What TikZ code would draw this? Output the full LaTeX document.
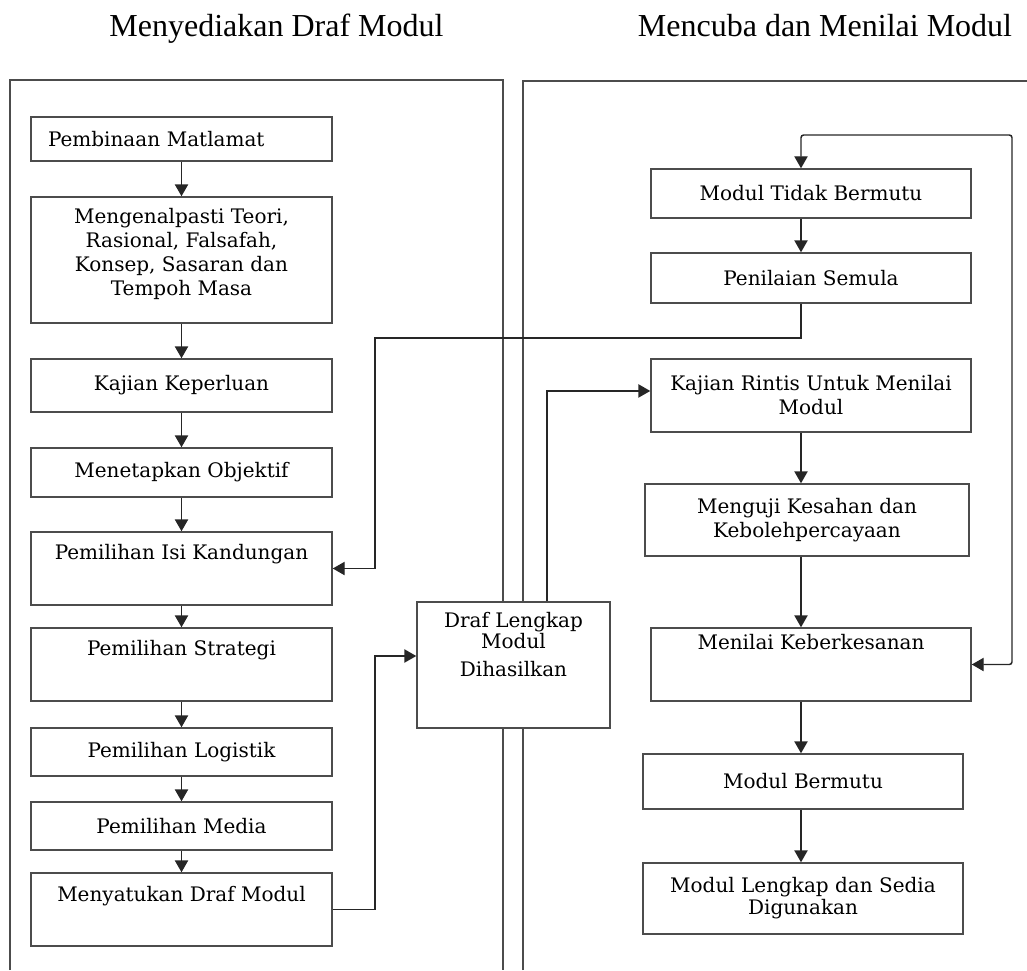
\documentclass[tikz,border=0pt]{standalone}
\usepackage{fontspec}
\setmainfont{Liberation Serif}
\newfontfamily\boxfont{DejaVu Serif}
\usetikzlibrary{arrows.meta}
\begin{document}
\begin{tikzpicture}[x=0.75pt,y=-0.75pt,
  >={Triangle[length=9pt,width=10pt]},
  box/.style={draw=black!70,fill=white,line width=1.1pt,align=center,inner sep=0pt,
    text=black,font=\boxfont\fontsize{15}{18}\selectfont},
  upper/.style 2 args={text height=#1,text depth=#2},
  arr/.style={draw=black!85,line width=1.1pt,->},
  panel/.style={draw=black!70,line width=1.1pt},
  ttl/.style={anchor=base,font=\fontsize{24}{28}\selectfont}]
\useasboundingbox (0,0) rectangle (1027,970);

\draw[panel] (10,970) -- (10,80) -- (503,80) -- (503,970);
\draw[panel] (523,970) -- (523,81) -- (1027,81);

\node[ttl] (ttlkiri) at (276.5,37) {Menyediakan Draf Modul};
\node[ttl] (ttlkanan) at (825,37) {Mencuba dan Menilai Modul};

\begin{scope}[box/.append style={minimum width=225.75pt}]
\node[box,minimum height=33pt,text width=200.25pt,align=left] (matlamat) at (181.5,139) {Pembinaan Matlamat};
\node[box,upper={73.5pt}{21pt}] (teori) at (181.5,260) {Mengenalpasti Teori,\\Rasional, Falsafah,\\Konsep, Sasaran dan\\Tempoh Masa};
\node[box,minimum height=39.75pt] (keperluan) at (181.5,385.5) {Kajian Keperluan};
\node[box,minimum height=36.75pt] (objektif) at (181.5,472.5) {Menetapkan Objektif};
\node[box,upper={20.25pt}{34.5pt}] (isi) at (181.5,568.5) {Pemilihan Isi Kandungan};
\node[box,upper={20.25pt}{34.5pt}] (strategi) at (181.5,664.5) {Pemilihan Strategi};
\node[box,minimum height=36pt] (logistik) at (181.5,752) {Pemilihan Logistik};
\node[box,minimum height=36pt] (media) at (181.5,826) {Pemilihan Media};
\node[box,upper={21pt}{33.75pt}] (menyatu) at (181.5,909.5) {Menyatukan Draf Modul};
\end{scope}

\node[box,minimum width=144.75pt,upper={55.5pt}{39pt},font=\boxfont\fontsize{15}{13.5}\selectfont] (draf) at (513.5,665) {Draf Lengkap\\Modul\\[7.5pt]Dihasilkan};

\node[box,minimum width=240pt,minimum height=36.75pt] (tidak) at (811,193.5) {Modul Tidak Bermutu};
\node[box,minimum width=240pt,minimum height=37.5pt] (semula) at (811,278) {Penilaian Semula};
\node[box,minimum width=240pt,minimum height=54.75pt] (rintis) at (811,395.5) {Kajian Rintis Untuk Menilai\\Modul};
\node[box,minimum width=243pt,minimum height=54pt] (menguji) at (807,520) {Menguji Kesahan dan\\Kebolehpercayaan};
\node[box,minimum width=240pt,upper={15.75pt}{39pt}] (menilai) at (811,664.5) {Menilai Keberkesanan};
\node[box,minimum width=240pt,minimum height=41.25pt] (bermutu) at (803,781.5) {Modul Bermutu};
\node[box,minimum width=240pt,minimum height=53.25pt,font=\boxfont\fontsize{15}{16.5}\selectfont] (lengkap) at (803,898.5) {Modul Lengkap dan Sedia\\Digunakan};

\coordinate (rx) at (801,0);

\foreach \a/\b in {matlamat/teori,teori/keperluan,keperluan/objektif,objektif/isi,isi/strategi,strategi/logistik,logistik/media,media/menyatu}
  \draw[arr] (\a) -- (\b);
\foreach \a/\b in {tidak/semula,rintis/menguji,menguji/menilai,menilai/bermutu,bermutu/lengkap}
  \draw[arr] (\a.south -| rx) -- (\b.north -| rx);

\draw[arr] (semula.south -| rx) |- (375,338) |- (isi.east);
\draw[arr] (menyatu.east) -| (375,656) -- ([yshift=6.75pt]draf.west);
\draw[arr] ([xshift=25.1pt]draf.north) |- ([yshift=3.4pt]rintis.west);
\draw[arr,<->,rounded corners=2pt] (menilai.east) -| (1012,135) -| (tidak.north -| rx);
\end{tikzpicture}
\end{document}
